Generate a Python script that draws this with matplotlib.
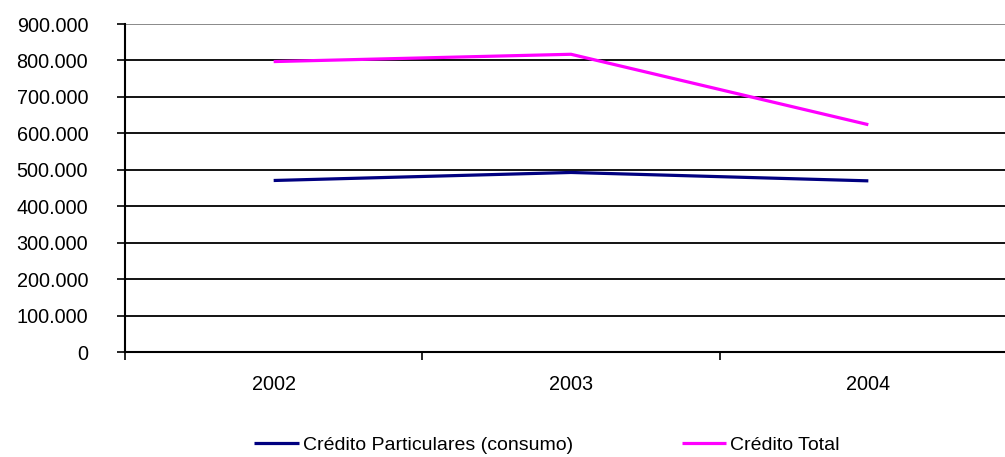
import matplotlib
matplotlib.use("Agg")
import matplotlib.pyplot as plt
from matplotlib.ticker import FuncFormatter, FixedLocator

years = ["2002", "2003", "2004"]
particulares = [471000, 493000, 470000]
total = [797000, 817000, 624000]
yticks = [0, 100000, 200000, 300000, 400000, 500000, 600000, 700000, 800000, 900000]

plt.rcParams['font.family'] = ['Liberation Sans', 'DejaVu Sans']

W, H = 1005, 457
fig = plt.figure(figsize=(W / 100, H / 100), dpi=100)
ax = fig.add_axes([125 / W, (H - 352.3) / H, 892 / W, 328.3 / H])

x = list(range(len(years)))
ax.set_xlim(-0.5, len(years) - 0.5)
ax.set_ylim(0, 900000)

for v in yticks[1:]:
    ax.axhline(v, color='#808080' if v == yticks[-1] else 'black', lw=1.3, zorder=1)

l1, = ax.plot(x, particulares, color='#000080', lw=2.3, zorder=3, solid_capstyle='butt')
l2, = ax.plot(x, total, color='#FF00FF', lw=2.3, zorder=3, solid_capstyle='butt')

ax.set_yticks(yticks)
ax.yaxis.set_major_formatter(FuncFormatter(lambda v, p: f"{int(v):,}".replace(",", ".")))
ax.tick_params(axis='y', direction='out', length=6, width=1.2, labelsize=14.3, pad=20.5, colors='black')

ax.set_xticks(x)
ax.set_xticklabels(years)
ax.tick_params(axis='x', which='major', length=0, labelsize=14.3, pad=16.5)
ax.xaxis.set_minor_locator(FixedLocator([-0.5 + i for i in range(len(years) + 1)]))
ax.tick_params(axis='x', which='minor', direction='out', length=6, width=1.2)

for s in ['top', 'right']:
    ax.spines[s].set_visible(False)
ax.spines['left'].set_linewidth(1.5)
ax.spines['bottom'].set_linewidth(1.5)

fig.legend(handles=[l1, l2], labels=["Crédito Particulares (consumo)", "Crédito Total"],
           loc='center', bbox_to_anchor=(547 / W, (H - 445) / H), ncol=2, frameon=False,
           fontsize=14, handlelength=2.3, handletextpad=0.2, columnspacing=5.6)

fig.savefig("out.png", dpi=100)
